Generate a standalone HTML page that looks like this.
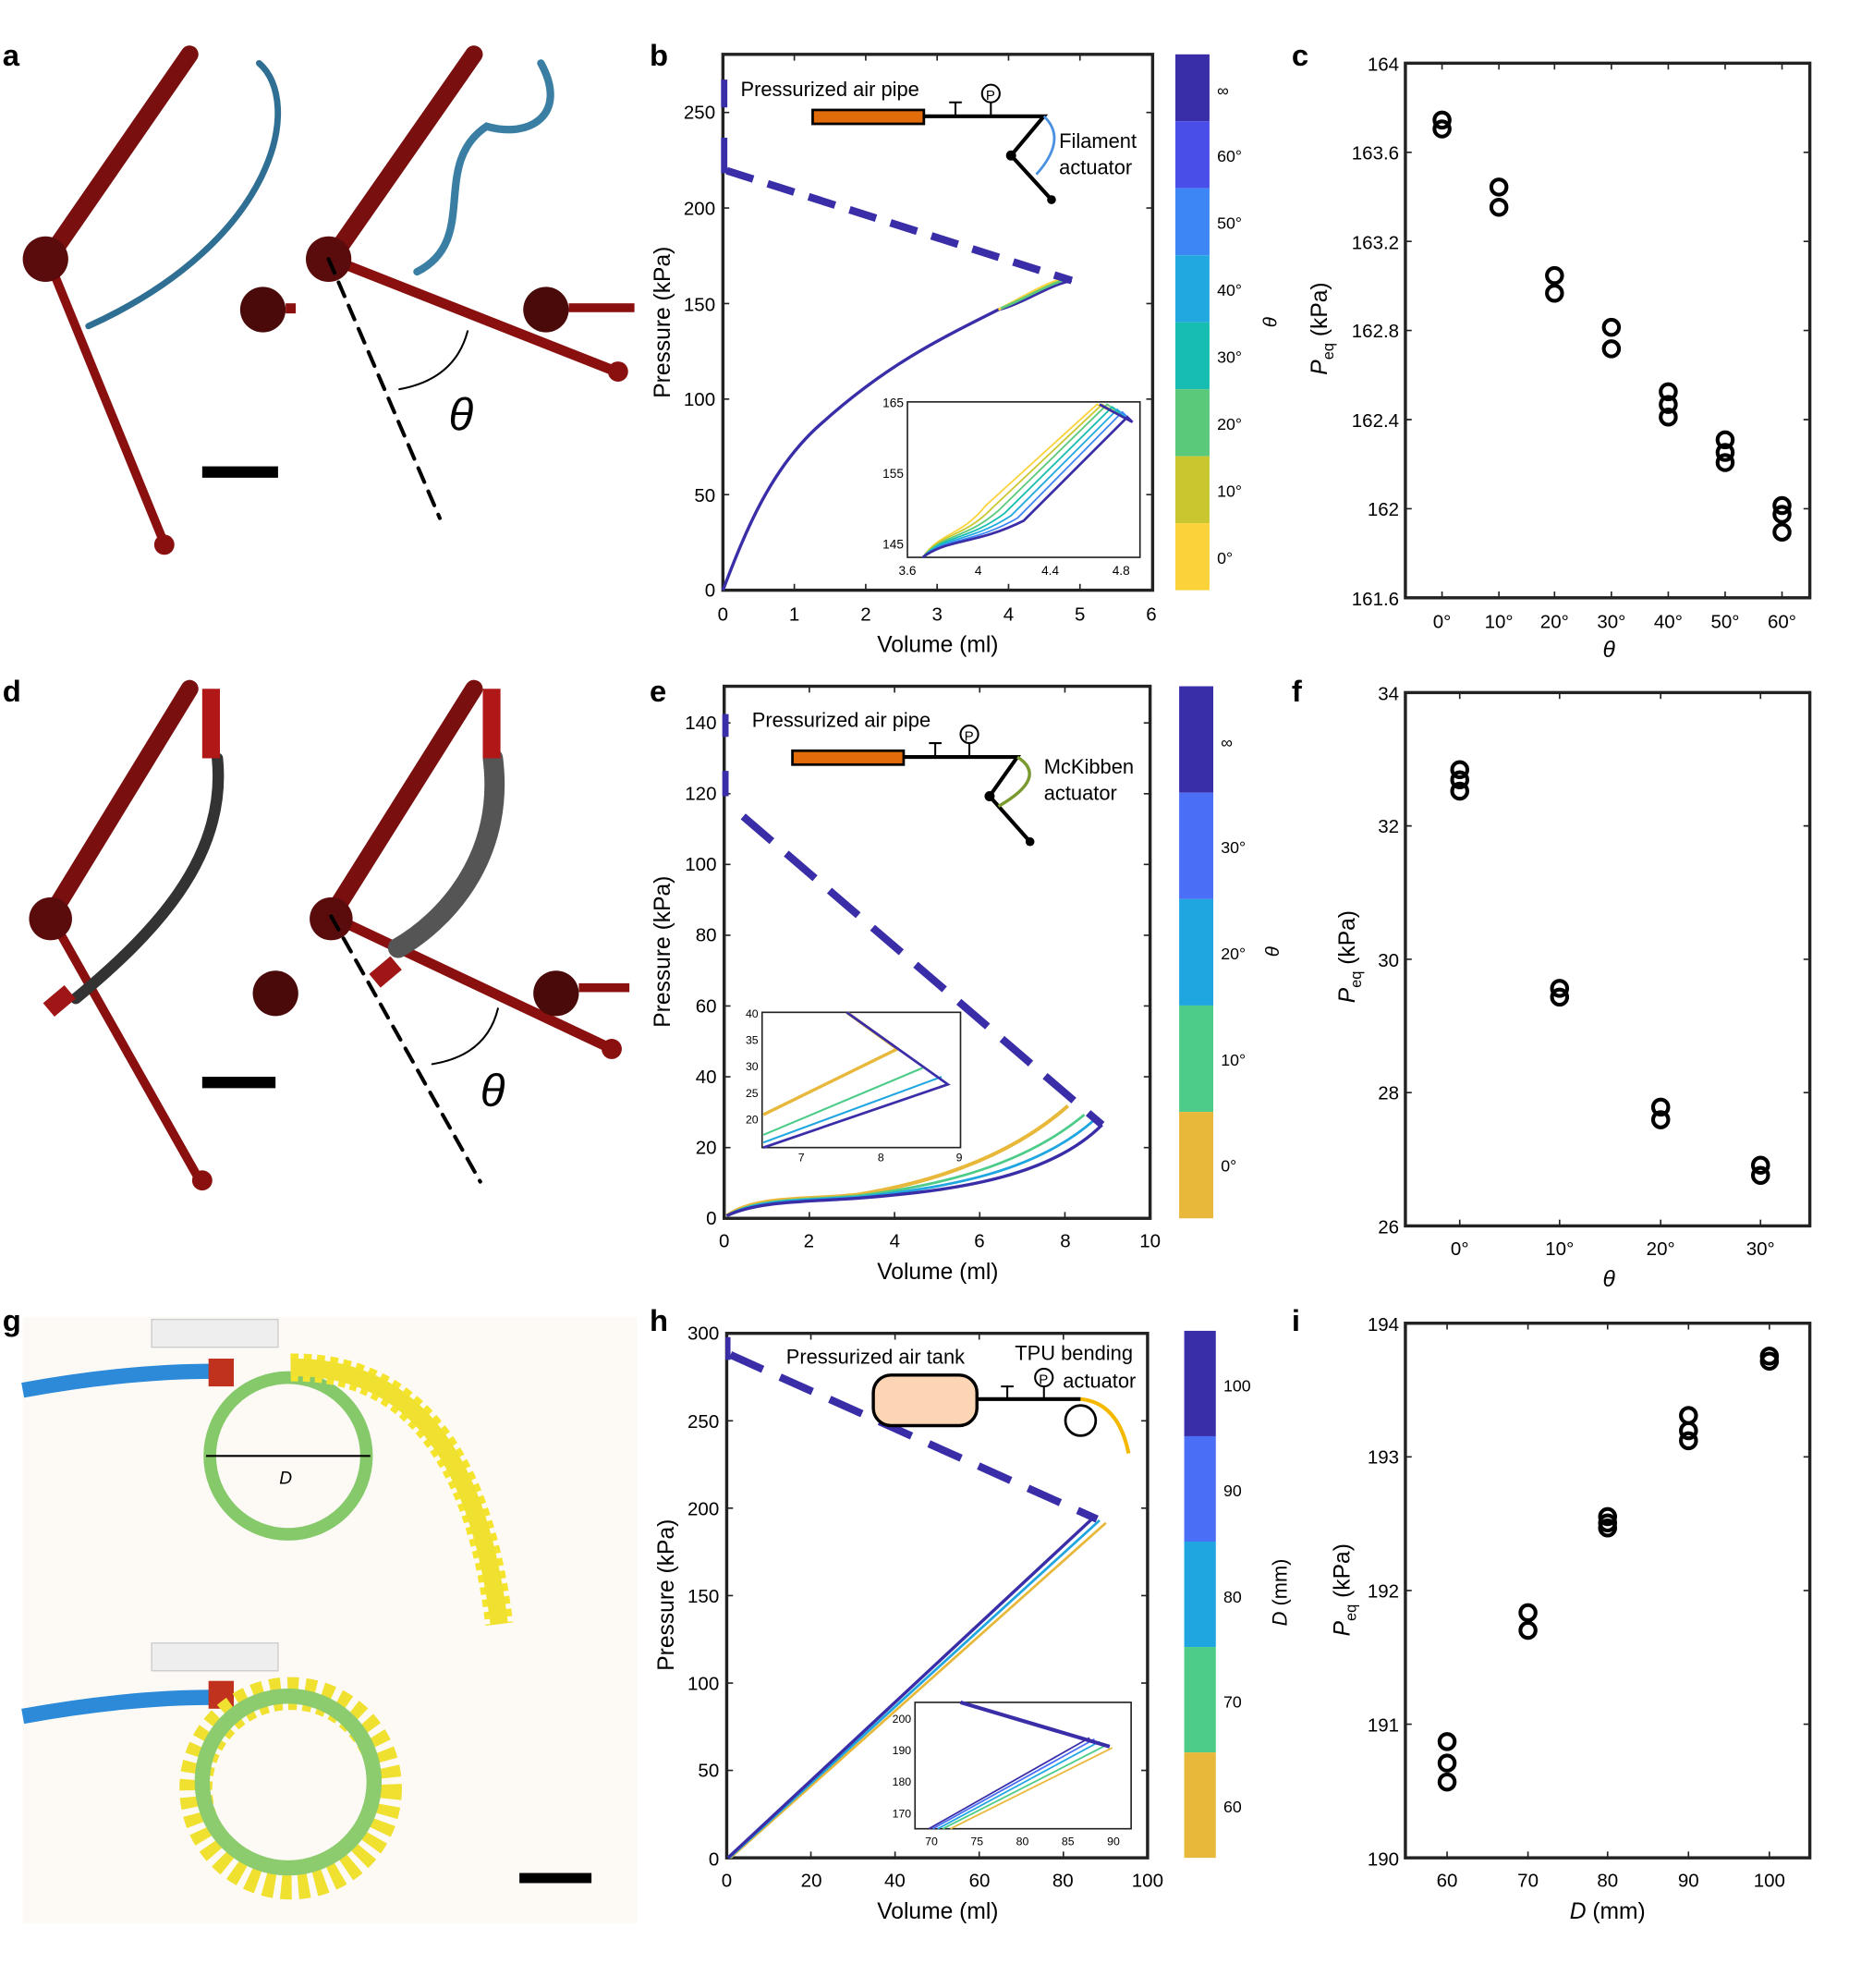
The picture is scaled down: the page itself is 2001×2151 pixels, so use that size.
<!DOCTYPE html><html><head><style>body{margin:0;background:#fff}svg{display:block}text{font-family:"Liberation Sans",sans-serif}</style></head><body>
<svg width="2001" height="2151" viewBox="0 0 1463 1573" preserveAspectRatio="none" xmlns="http://www.w3.org/2000/svg">
<rect width="1463" height="1573" fill="#fff"/>
<g font-weight="bold" font-size="24"><text x="2" y="52">a</text><text x="514" y="52">b</text><text x="1022" y="52">c</text><text x="2" y="555">d</text><text x="514" y="555">e</text><text x="1022" y="555">f</text><text x="2" y="1053">g</text><text x="514" y="1053">h</text><text x="1022" y="1053">i</text></g>
<!-- panel a -->
<g stroke-linecap="round">
<path d="M150,43 L38,205" stroke="#7a0f0f" stroke-width="14"/><path d="M38,205 L130,430" stroke="#8a1010" stroke-width="7"/><circle cx="36" cy="205" r="18" fill="#5a0c0c"/><circle cx="130" cy="431" r="8" fill="#8a1010"/>
<path d="M205,50 C240,80 220,190 70,258" stroke="#2f6f93" stroke-width="5" fill="none"/>
<circle cx="208" cy="245" r="18" fill="#4a0a0a"/><rect x="226" y="240" width="8" height="8" fill="#8a1010"/>
<path d="M375,43 L262,205" stroke="#7a0f0f" stroke-width="14"/><path d="M262,205 L490,295" stroke="#8a1010" stroke-width="8"/><circle cx="260" cy="205" r="18" fill="#5a0c0c"/><circle cx="489" cy="294" r="8" fill="#8a1010"/>
<path d="M428,50 C450,90 420,110 385,100 C340,130 380,190 330,215" stroke="#3a7fa3" stroke-width="6" fill="none"/>
<circle cx="432" cy="245" r="18" fill="#4a0a0a"/><rect x="450" y="240" width="52" height="7" fill="#8a1010"/>
<path d="M260,205 L348,410" stroke="#000" stroke-width="3" stroke-dasharray="12,8"/>
<rect x="160" y="369" width="60" height="9" fill="#000"/>
<path d="M316,308 Q360,300 370,262" stroke="#000" stroke-width="1.5" fill="none"/>
<text x="355" y="340" font-family="Liberation Serif" font-style="italic" font-size="36" stroke="none">θ</text>
</g>
<!-- panel d -->
<g stroke-linecap="round">
<path d="M150,545 L40,725" stroke="#7a0f0f" stroke-width="14"/><path d="M40,725 L158,934" stroke="#8a1010" stroke-width="7"/><circle cx="40" cy="727" r="17" fill="#5a0c0c"/><circle cx="160" cy="934" r="8" fill="#8a1010"/>
<path d="M172,600 C180,680 120,740 60,790" stroke="#333" stroke-width="9" fill="none"/><rect x="160" y="545" width="14" height="55" fill="#b01818"/>
<rect x="36" y="785" width="22" height="14" fill="#a01515" transform="rotate(-40 47 792)"/>
<circle cx="218" cy="786" r="18" fill="#4a0a0a"/>
<path d="M375,545 L262,725" stroke="#7a0f0f" stroke-width="14"/><path d="M262,725 L484,830" stroke="#8a1010" stroke-width="8"/><circle cx="262" cy="727" r="17" fill="#5a0c0c"/><circle cx="484" cy="830" r="8" fill="#8a1010"/>
<path d="M390,600 C400,680 350,730 315,750" stroke="#555" stroke-width="16" fill="none"/><rect x="382" y="545" width="14" height="55" fill="#b01818"/>
<rect x="294" y="762" width="22" height="14" fill="#a01515" transform="rotate(-40 305 769)"/>
<circle cx="440" cy="786" r="18" fill="#4a0a0a"/><rect x="458" y="778" width="40" height="7" fill="#8a1010"/>
<path d="M262,725 L380,935" stroke="#000" stroke-width="3" stroke-dasharray="12,8"/>
<rect x="160" y="852" width="58" height="9" fill="#000"/>
<path d="M342,842 Q385,835 394,798" stroke="#000" stroke-width="1.5" fill="none"/>
<text x="380" y="875" font-family="Liberation Serif" font-style="italic" font-size="36">θ</text>
</g>
<!-- panel g -->
<rect x="18" y="1042" width="486" height="480" fill="#fdfaf6"/>
<rect x="120" y="1044" width="100" height="22" fill="#eee" stroke="#ccc"/>
<path d="M18,1100 Q100,1085 170,1085" stroke="#2c8ad8" stroke-width="12" fill="none"/>
<rect x="165" y="1075" width="20" height="22" fill="#c0321e"/>
<circle cx="228" cy="1152" r="62" fill="none" stroke="#86c96a" stroke-width="10"/>
<path d="M230,1082 Q370,1080 395,1285" stroke="#f5e42c" stroke-width="22" fill="none" stroke-dasharray="6,4"/>
<path d="M230,1082 Q370,1080 395,1285" stroke="#f0e030" stroke-width="14" fill="none"/>
<path d="M163,1152 H293" stroke="#000" stroke-width="1.5"/><text x="221" y="1174" font-style="italic" font-size="14">D</text>
<rect x="120" y="1300" width="100" height="22" fill="#eee" stroke="#ccc"/>
<path d="M18,1358 Q100,1343 170,1343" stroke="#2c8ad8" stroke-width="12" fill="none"/>
<rect x="165" y="1330" width="20" height="22" fill="#c0321e"/>
<circle cx="230" cy="1415" r="75" fill="none" stroke="#f0e030" stroke-width="26" stroke-dasharray="8,5"/>
<circle cx="228" cy="1410" r="68" fill="none" stroke="#8ccc6e" stroke-width="12"/>
<rect x="411" y="1482" width="57" height="8" fill="#000"/>
<!-- ===== panel b ===== -->
<g font-size="15">
<rect x="572" y="43" width="340" height="424" fill="none" stroke="#222" stroke-width="2.5"/>
<g stroke="#222" stroke-width="1.2">
<path d="M628.5,467v-5M685,467v-5M741.5,467v-5M798,467v-5M854.5,467v-5M628.5,43v5M685,43v5M741.5,43v5M798,43v5M854.5,43v5"/>
<path d="M572,391.4h5M572,315.8h5M572,240.2h5M572,164.6h5M572,89h5M912,391.4h-5M912,315.8h-5M912,240.2h-5M912,164.6h-5M912,89h-5"/></g>
<g text-anchor="middle"><text x="572" y="491">0</text><text x="628.5" y="491">1</text><text x="685" y="491">2</text><text x="741.5" y="491">3</text><text x="798" y="491">4</text><text x="854.5" y="491">5</text><text x="911" y="491">6</text><text x="742" y="516" font-size="18">Volume (ml)</text></g>
<g text-anchor="end"><text x="566" y="472">0</text><text x="566" y="397">50</text><text x="566" y="321">100</text><text x="566" y="246">150</text><text x="566" y="170">200</text><text x="566" y="94">250</text></g>
<text transform="translate(530,255) rotate(-90)" text-anchor="middle" font-size="18">Pressure (kPa)</text>
<path d="M572,467 C590,420 610,370 650,335 C700,290 740,270 790,245 C810,240 830,225 848,222" stroke="#3a2ea8" stroke-width="2.5" fill="none"/>
<path d="M790,245 C810,235 830,222 845,220" stroke="#fcd23a" stroke-width="2" fill="none"/>
<path d="M792,244 C812,236 832,223 846,221" stroke="#5bc97a" stroke-width="2" fill="none"/>
<path d="M575,135 L848,222" stroke="#3a2ea8" stroke-width="6" stroke-dasharray="22,12"/>
<path d="M573,63v22M573,109v28" stroke="#3a2ea8" stroke-width="5"/>
<text x="586" y="76" font-size="16">Pressurized air pipe</text>
<rect x="643" y="87" width="88" height="11" fill="#e36c0a" stroke="#000" stroke-width="2"/>
<path d="M731,92H826L800,123L832,158M800,123L826,92" stroke="#000" stroke-width="3" fill="none"/>
<path d="M826,92 Q845,110 820,138" stroke="#4a90e2" stroke-width="2" fill="none"/>
<circle cx="800" cy="123" r="4"/><circle cx="832" cy="158" r="3.5"/>
<circle cx="784" cy="74" r="7" fill="#fff" stroke="#000" stroke-width="1.5"/><text x="780" y="79" font-size="11">P</text>
<path d="M784,81v11M756,81v11M751,81h10" stroke="#000" stroke-width="1.5"/>
<text x="838" y="117" font-size="16">Filament</text><text x="838" y="138" font-size="16">actuator</text>
<rect x="718" y="318" width="184" height="123" fill="#fff" stroke="#222" stroke-width="1.2"/>
<g font-size="10" text-anchor="end"><text x="715" y="322">165</text><text x="715" y="378">155</text><text x="715" y="434">145</text></g>
<g font-size="10" text-anchor="middle"><text x="718" y="455">3.6</text><text x="774" y="455">4</text><text x="831" y="455">4.4</text><text x="887" y="455">4.8</text></g>
<g fill="none" stroke-width="1.3">
<path d="M730,441 C745,420 760,425 780,400 L868,320 L896,334" stroke="#fcd23a"/>
<path d="M730,441 C745,421 762,426 785,402 L872,320 L896,334" stroke="#c9c72f"/>
<path d="M730,441 C746,422 764,427 790,404 L876,320 L896,334" stroke="#5bc97a"/>
<path d="M730,441 C747,423 766,428 795,406 L880,322 L896,334" stroke="#17bdb0"/>
<path d="M730,441 C748,424 768,429 800,408 L884,324 L896,334" stroke="#21a8e0"/>
<path d="M730,441 C749,425 770,430 805,410 L888,326 L896,334" stroke="#3d86f5"/>
<path d="M730,441 C750,426 772,431 810,412 L892,330 L896,334 L870,320" stroke="#3a2ea8" stroke-width="2"/></g>
<g><rect x="930" y="43" width="27" height="53" fill="#3a2ea8"/><rect x="930" y="96" width="27" height="53" fill="#4a4ee8"/><rect x="930" y="149" width="27" height="53" fill="#3d86f5"/><rect x="930" y="202" width="27" height="53" fill="#21a8e0"/><rect x="930" y="255" width="27" height="53" fill="#17bdb0"/><rect x="930" y="308" width="27" height="53" fill="#5bc97a"/><rect x="930" y="361" width="27" height="53" fill="#c9c72f"/><rect x="930" y="414" width="27" height="53" fill="#fcd23a"/></g>
<g font-size="13"><text x="963" y="76">∞</text><text x="963" y="128">60°</text><text x="963" y="181">50°</text><text x="963" y="234">40°</text><text x="963" y="287">30°</text><text x="963" y="340">20°</text><text x="963" y="393">10°</text><text x="963" y="446">0°</text></g>
<text transform="translate(1010,255) rotate(-90)" font-family="Liberation Serif" font-style="italic" text-anchor="middle">θ</text>
</g>
<!-- ===== panel c ===== -->
<g font-size="15">
<rect x="1112" y="50" width="320" height="423" fill="none" stroke="#222" stroke-width="2.5"/>
<g stroke="#222" stroke-width="1.2"><path d="M1141,473v-5M1186,473v-5M1230,473v-5M1275,473v-5M1320,473v-5M1365,473v-5M1410,473v-5M1141,50v5M1186,50v5M1230,50v5M1275,50v5M1320,50v5M1365,50v5M1410,50v5M1112,120.5h5M1112,191h5M1112,261.5h5M1112,332h5M1112,402.5h5M1432,120.5h-5M1432,191h-5M1432,261.5h-5M1432,332h-5M1432,402.5h-5"/></g>
<g text-anchor="end"><text x="1107" y="56">164</text><text x="1107" y="126">163.6</text><text x="1107" y="197">163.2</text><text x="1107" y="267">162.8</text><text x="1107" y="338">162.4</text><text x="1107" y="408">162</text><text x="1107" y="479">161.6</text></g>
<g text-anchor="middle"><text x="1141" y="497">0°</text><text x="1186" y="497">10°</text><text x="1230" y="497">20°</text><text x="1275" y="497">30°</text><text x="1320" y="497">40°</text><text x="1365" y="497">50°</text><text x="1410" y="497">60°</text><text x="1273" y="520" font-family="Liberation Serif" font-style="italic" font-size="18">θ</text></g>
<text transform="translate(1050,260) rotate(-90)" text-anchor="middle" font-size="18"><tspan font-style="italic">P</tspan><tspan font-size="12" dy="5">eq</tspan><tspan dy="-5"> (kPa)</tspan></text>
<g fill="none" stroke="#000" stroke-width="3"><circle cx="1141" cy="95" r="6"/><circle cx="1141" cy="102" r="6"/><circle cx="1186" cy="148" r="6"/><circle cx="1186" cy="164" r="6"/><circle cx="1230" cy="218" r="6"/><circle cx="1230" cy="232" r="6"/><circle cx="1275" cy="259" r="6"/><circle cx="1275" cy="276" r="6"/><circle cx="1320" cy="310" r="6"/><circle cx="1320" cy="320" r="6"/><circle cx="1320" cy="330" r="6"/><circle cx="1365" cy="348" r="6"/><circle cx="1365" cy="358" r="6"/><circle cx="1365" cy="366" r="6"/><circle cx="1410" cy="400" r="6"/><circle cx="1410" cy="407" r="6"/><circle cx="1410" cy="421" r="6"/></g>
</g>
<!-- ===== panel e ===== -->
<g font-size="15">
<rect x="573" y="543" width="337" height="421" fill="none" stroke="#222" stroke-width="2.5"/>
<g stroke="#222" stroke-width="1.2"><path d="M640.4,964v-5M707.8,964v-5M775.2,964v-5M842.6,964v-5M640.4,543v5M707.8,543v5M775.2,543v5M842.6,543v5M573,908h5M573,852h5M573,796h5M573,740h5M573,684h5M573,628h5M573,572h5M910,908h-5M910,852h-5M910,796h-5M910,740h-5M910,684h-5M910,628h-5M910,572h-5"/></g>
<g text-anchor="middle"><text x="573" y="987">0</text><text x="640" y="987">2</text><text x="708" y="987">4</text><text x="775" y="987">6</text><text x="843" y="987">8</text><text x="910" y="987">10</text><text x="742" y="1012" font-size="18">Volume (ml)</text></g>
<g text-anchor="end"><text x="567" y="969">0</text><text x="567" y="913">20</text><text x="567" y="857">40</text><text x="567" y="801">60</text><text x="567" y="745">80</text><text x="567" y="689">100</text><text x="567" y="633">120</text><text x="567" y="577">140</text></g>
<text transform="translate(530,753) rotate(-90)" text-anchor="middle" font-size="18">Pressure (kPa)</text>
<path d="M575,962 C600,945 640,950 680,945 C740,935 800,915 845,875" stroke="#e8b83a" stroke-width="3" fill="none"/>
<path d="M575,962 C600,947 640,950 680,946 C745,938 810,922 858,882" stroke="#4ccc88" stroke-width="2" fill="none"/>
<path d="M575,962 C600,948 640,950 680,947 C750,940 820,927 866,886" stroke="#1fa6e0" stroke-width="2" fill="none"/>
<path d="M575,962 C600,950 640,951 680,948 C755,942 830,932 872,890" stroke="#3a2ea8" stroke-width="2.5" fill="none"/>
<path d="M588,646 L872,890" stroke="#3a2ea8" stroke-width="6" stroke-dasharray="30,15"/>
<path d="M574,565v18M574,610v20" stroke="#3a2ea8" stroke-width="5"/>
<text x="595" y="575" font-size="16">Pressurized air pipe</text>
<rect x="627" y="594" width="88" height="11" fill="#e36c0a" stroke="#000" stroke-width="2"/>
<path d="M715,599H805L783,630L815,666M783,630L805,599" stroke="#000" stroke-width="3" fill="none"/>
<path d="M805,599 Q830,615 790,638" stroke="#7a9a30" stroke-width="2.5" fill="none"/>
<circle cx="783" cy="630" r="4"/><circle cx="815" cy="666" r="3.5"/>
<circle cx="767" cy="581" r="7" fill="#fff" stroke="#000" stroke-width="1.5"/><text x="763" y="586" font-size="11">P</text>
<path d="M767,588v11M740,588v11M735,588h10" stroke="#000" stroke-width="1.5"/>
<text x="826" y="612" font-size="16">McKibben</text><text x="826" y="633" font-size="16">actuator</text>
<rect x="603" y="801" width="157" height="107" fill="#fff" stroke="#222" stroke-width="1.2"/>
<g font-size="9" text-anchor="end"><text x="600" y="805">40</text><text x="600" y="826">35</text><text x="600" y="847">30</text><text x="600" y="868">25</text><text x="600" y="889">20</text></g>
<g font-size="9" text-anchor="middle"><text x="634" y="919">7</text><text x="697" y="919">8</text><text x="759" y="919">9</text></g>
<g fill="none" stroke-width="1.5"><path d="M604,882 L710,830 L670,801" stroke="#e8b83a" stroke-width="2.5"/><path d="M604,898 L730,845" stroke="#4ccc88"/><path d="M604,904 L745,852" stroke="#1fa6e0"/><path d="M604,908 L750,858 L670,801" stroke="#3a2ea8" stroke-width="2"/></g>
<g><rect x="933" y="543" width="27" height="84.2" fill="#3a2ea8"/><rect x="933" y="627.2" width="27" height="84.2" fill="#4a6ef5"/><rect x="933" y="711.4" width="27" height="84.2" fill="#1fa6e0"/><rect x="933" y="795.6" width="27" height="84.2" fill="#4ccc88"/><rect x="933" y="879.8" width="27" height="84.2" fill="#e8b83a"/></g>
<g font-size="13"><text x="966" y="592">∞</text><text x="966" y="675">30°</text><text x="966" y="759">20°</text><text x="966" y="843">10°</text><text x="966" y="927">0°</text></g>
<text transform="translate(1012,753) rotate(-90)" font-family="Liberation Serif" font-style="italic" text-anchor="middle">θ</text>
</g>
<!-- ===== panel f ===== -->
<g font-size="15">
<rect x="1112" y="548" width="320" height="422" fill="none" stroke="#222" stroke-width="2.5"/>
<g stroke="#222" stroke-width="1.2"><path d="M1155,970v-5M1234,970v-5M1314,970v-5M1393,970v-5M1155,548v5M1234,548v5M1314,548v5M1393,548v5M1112,653.5h5M1112,759h5M1112,864.5h5M1432,653.5h-5M1432,759h-5M1432,864.5h-5"/></g>
<g text-anchor="end"><text x="1107" y="554">34</text><text x="1107" y="659">32</text><text x="1107" y="765">30</text><text x="1107" y="870">28</text><text x="1107" y="976">26</text></g>
<g text-anchor="middle"><text x="1155" y="993">0°</text><text x="1234" y="993">10°</text><text x="1314" y="993">20°</text><text x="1393" y="993">30°</text><text x="1273" y="1018" font-family="Liberation Serif" font-style="italic" font-size="18">θ</text></g>
<text transform="translate(1072,757) rotate(-90)" text-anchor="middle" font-size="18"><tspan font-style="italic">P</tspan><tspan font-size="12" dy="5">eq</tspan><tspan dy="-5"> (kPa)</tspan></text>
<g fill="none" stroke="#000" stroke-width="3"><circle cx="1155" cy="609" r="6"/><circle cx="1155" cy="617" r="6"/><circle cx="1155" cy="626" r="6"/><circle cx="1234" cy="782" r="6"/><circle cx="1234" cy="789" r="6"/><circle cx="1314" cy="876" r="6"/><circle cx="1314" cy="886" r="6"/><circle cx="1393" cy="922" r="6"/><circle cx="1393" cy="930" r="6"/></g>
</g>
<!-- ===== panel h ===== -->
<g font-size="15">
<rect x="575" y="1055" width="333" height="415" fill="none" stroke="#222" stroke-width="2.5"/>
<g stroke="#222" stroke-width="1.2"><path d="M641.6,1470v-5M708.2,1470v-5M774.8,1470v-5M841.4,1470v-5M641.6,1055v5M708.2,1055v5M774.8,1055v5M841.4,1055v5M575,1400.8h5M575,1331.7h5M575,1262.5h5M575,1193.3h5M575,1124.2h5M908,1400.8h-5M908,1331.7h-5M908,1262.5h-5M908,1193.3h-5M908,1124.2h-5"/></g>
<g text-anchor="middle"><text x="575" y="1493">0</text><text x="642" y="1493">20</text><text x="708" y="1493">40</text><text x="775" y="1493">60</text><text x="841" y="1493">80</text><text x="908" y="1493">100</text><text x="742" y="1518" font-size="18">Volume (ml)</text></g>
<g text-anchor="end"><text x="569" y="1476">0</text><text x="569" y="1406">50</text><text x="569" y="1337">100</text><text x="569" y="1268">150</text><text x="569" y="1199">200</text><text x="569" y="1130">250</text><text x="569" y="1060">300</text></g>
<text transform="translate(533,1262) rotate(-90)" text-anchor="middle" font-size="18">Pressure (kPa)</text>
<path d="M578,1470 L875,1205" stroke="#e8b83a" stroke-width="2" fill="none"/>
<path d="M577,1470 L870,1203" stroke="#1fa6e0" stroke-width="2" fill="none"/>
<path d="M576,1470 L866,1200" stroke="#3a2ea8" stroke-width="2.5" fill="none"/>
<path d="M578,1072 L868,1202" stroke="#3a2ea8" stroke-width="6" stroke-dasharray="28,15"/>
<path d="M576,1058v18" stroke="#3a2ea8" stroke-width="4"/>
<text x="622" y="1079" font-size="16">Pressurized air tank</text>
<text x="803" y="1076" font-size="16">TPU bending</text><text x="841" y="1098" font-size="16">actuator</text>
<rect x="691" y="1088" width="82" height="40" rx="14" fill="#fcd5b5" stroke="#000" stroke-width="2.5"/>
<path d="M773,1107H855" stroke="#000" stroke-width="3"/>
<circle cx="855" cy="1124" r="12" fill="#fff" stroke="#000" stroke-width="2"/>
<path d="M855,1107 Q885,1110 893,1150" stroke="#f5b800" stroke-width="3" fill="none"/>
<circle cx="826" cy="1090" r="7" fill="#fff" stroke="#000" stroke-width="1.5"/><text x="822" y="1095" font-size="11">P</text>
<path d="M826,1097v10M797,1097v10M792,1097h10" stroke="#000" stroke-width="1.5"/>
<rect x="724" y="1347" width="171" height="100" fill="#fff" stroke="#222" stroke-width="1.2"/>
<g font-size="9" text-anchor="end"><text x="721" y="1363">200</text><text x="721" y="1388">190</text><text x="721" y="1413">180</text><text x="721" y="1438">170</text></g>
<g font-size="9" text-anchor="middle"><text x="737" y="1460">70</text><text x="773" y="1460">75</text><text x="809" y="1460">80</text><text x="845" y="1460">85</text><text x="881" y="1460">90</text></g>
<g fill="none" stroke-width="1.3"><path d="M752,1447 L880,1383" stroke="#e8b83a"/><path d="M746,1447 L875,1381" stroke="#4ccc88"/><path d="M742,1447 L870,1378" stroke="#1fa6e0"/><path d="M738,1447 L866,1376" stroke="#4a6ef5"/><path d="M735,1447 L862,1375" stroke="#3a2ea8"/><path d="M760,1347 L878,1382" stroke="#3a2ea8" stroke-width="3"/></g>
<g><rect x="937" y="1053" width="25" height="83.4" fill="#3a2ea8"/><rect x="937" y="1136.4" width="25" height="83.4" fill="#4a6ef5"/><rect x="937" y="1219.8" width="25" height="83.4" fill="#1fa6e0"/><rect x="937" y="1303.2" width="25" height="83.4" fill="#4ccc88"/><rect x="937" y="1386.6" width="25" height="83.4" fill="#e8b83a"/></g>
<g font-size="13"><text x="968" y="1101">100</text><text x="968" y="1184">90</text><text x="968" y="1268">80</text><text x="968" y="1351">70</text><text x="968" y="1434">60</text></g>
<text transform="translate(1018,1260) rotate(-90)" text-anchor="middle" font-size="16"><tspan font-style="italic">D</tspan> (mm)</text>
</g>
<!-- ===== panel i ===== -->
<g font-size="15">
<rect x="1112" y="1047" width="320" height="423" fill="none" stroke="#222" stroke-width="2.5"/>
<g stroke="#222" stroke-width="1.2"><path d="M1145,1470v-5M1209,1470v-5M1272,1470v-5M1336,1470v-5M1400,1470v-5M1145,1047v5M1209,1047v5M1272,1047v5M1336,1047v5M1400,1047v5M1112,1152.75h5M1112,1258.5h5M1112,1364.25h5M1432,1152.75h-5M1432,1258.5h-5M1432,1364.25h-5"/></g>
<g text-anchor="end"><text x="1107" y="1053">194</text><text x="1107" y="1158">193</text><text x="1107" y="1264">192</text><text x="1107" y="1370">191</text><text x="1107" y="1476">190</text></g>
<g text-anchor="middle"><text x="1145" y="1493">60</text><text x="1209" y="1493">70</text><text x="1272" y="1493">80</text><text x="1336" y="1493">90</text><text x="1400" y="1493">100</text><text x="1272" y="1518" font-size="18"><tspan font-style="italic">D</tspan> (mm)</text></g>
<text transform="translate(1068,1258) rotate(-90)" text-anchor="middle" font-size="18"><tspan font-style="italic">P</tspan><tspan font-size="12" dy="5">eq</tspan><tspan dy="-5"> (kPa)</tspan></text>
<g fill="none" stroke="#000" stroke-width="3"><circle cx="1145" cy="1378" r="6"/><circle cx="1145" cy="1395" r="6"/><circle cx="1145" cy="1410" r="6"/><circle cx="1209" cy="1276" r="6"/><circle cx="1209" cy="1290" r="6"/><circle cx="1272" cy="1200" r="6"/><circle cx="1272" cy="1205" r="6"/><circle cx="1272" cy="1209" r="6"/><circle cx="1336" cy="1120" r="6"/><circle cx="1336" cy="1132" r="6"/><circle cx="1336" cy="1140" r="6"/><circle cx="1400" cy="1073" r="6"/><circle cx="1400" cy="1077" r="6"/></g>
</g>
</svg></body></html>
